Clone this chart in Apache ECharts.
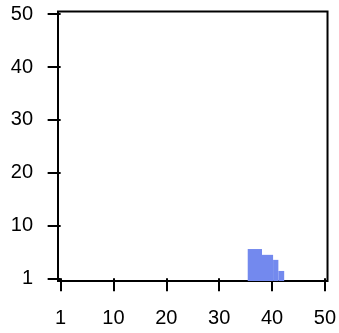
<!DOCTYPE html>
<html>
<head>
<meta charset="utf-8">
<script src="https://cdn.jsdelivr.net/npm/echarts@6/dist/echarts.min.js"></script>
<style>html,body{margin:0;padding:0;background:#fff;}#c{width:339px;height:333px;}</style>
</head>
<body>
<div id="c"></div>
<script>
var tickValues = [0, 10, 20, 30, 40, 50];
var tickLabels = ['1', '10', '20', '30', '40', '50'];
var blockStart = [35.4, 38.1, 40.2, 41.2];
var blockEnd   = [38.1, 40.2, 41.2, 42.3];
var blockTop   = [5.55, 4.45, 3.5, 1.4];
var blockBase = -0.5;

var data = blockStart.map(function (s, i) { return [s, blockEnd[i], blockTop[i]]; });
function fmt(v) { var i = tickValues.indexOf(v); return i >= 0 ? tickLabels[i] : ''; }

var chart = echarts.init(document.getElementById('c'));
chart.setOption({
  animation: false,
  grid: { left: 58, right: 8, top: 11.5, bottom: 52, show: true, borderColor: '#000', borderWidth: 2, backgroundColor: 'transparent' },
  xAxis: {
    type: 'value', min: -0.5, max: 50.5,
    axisLine: { show: false },
    splitLine: { show: false },
    axisTick: { show: true, customValues: tickValues, length: 13, inside: false, lineStyle: { color: '#000', width: 2 } },
    axisLabel: { customValues: tickValues, formatter: fmt, margin: 27, color: '#000', fontSize: 20, fontFamily: 'Liberation Sans, Arial, sans-serif' }
  },
  yAxis: {
    type: 'value', min: -0.5, max: 50.5,
    axisLine: { show: false },
    splitLine: { show: false },
    axisTick: { show: true, customValues: tickValues, length: 13, inside: false, lineStyle: { color: '#000', width: 2 } },
    axisLabel: { customValues: tickValues, formatter: fmt, margin: 25, color: '#000', fontSize: 20, fontFamily: 'Liberation Sans, Arial, sans-serif' }
  },
  series: [{
    type: 'custom',
    data: data,
    renderItem: function (params, api) {
      var p0 = api.coord([api.value(0), api.value(2)]);
      var p1 = api.coord([api.value(1), blockBase]);
      return { type: 'rect', shape: { x: p0[0], y: p0[1], width: p1[0] - p0[0], height: p1[1] - p0[1] }, style: { fill: '#7389EE' } };
    },
    encode: { x: [0, 1], y: 2 }
  }]
});
</script>
</body>
</html>
